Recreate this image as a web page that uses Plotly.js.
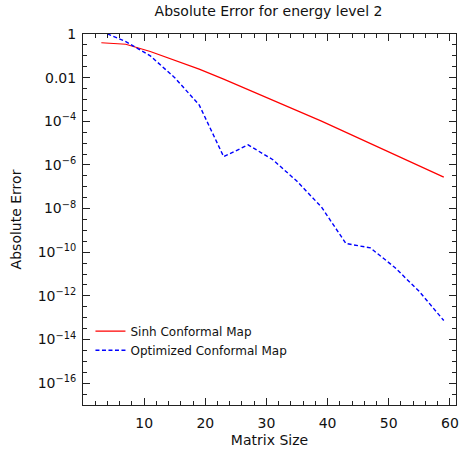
<!DOCTYPE html>
<html>
<head>
<meta charset="utf-8">
<script src="https://cdn.plot.ly/plotly-3.0.1.min.js"></script>
<style>html,body{margin:0;padding:0;background:#fff;}#chart{width:459px;height:456px;}</style>
</head>
<body>
<div id="chart"></div>
<script>
// Matrix sizes
const matrixSize = [3, 7, 11, 15, 19, 23, 27, 31, 35, 39, 43, 47, 51, 55, 59];
// log10 of absolute error
const sinhLog10 = [-0.40, -0.47, -0.80, -1.20, -1.61, -2.07, -2.54, -3.02, -3.51, -3.99, -4.50, -5.01, -5.53, -6.05, -6.56];
const optimizedLog10 = [0.12, -0.35, -1.00, -2.00, -3.25, -5.62, -5.08, -5.75, -6.75, -7.93, -9.60, -9.80, -10.70, -11.80, -13.13];
const yTickVals = [1, 1e-2, 1e-4, 1e-6, 1e-8, 1e-10, 1e-12, 1e-14, 1e-16];
const yTickText = ['1', '0.01', '10<sup>−4</sup>', '10<sup>−6</sup>', '10<sup>−8</sup>', '10<sup>−10</sup>', '10<sup>−12</sup>', '10<sup>−14</sup>', '10<sup>−16</sup>'];
const xTickVals = [10, 20, 30, 40, 50, 60];

const sinh = sinhLog10.map(v => Math.pow(10, v));
const optimized = optimizedLog10.map(v => Math.pow(10, v));

const minorY = [];
for (let k = 0; k <= 34; k++) minorY.push(Math.pow(10, -k / 2));

const font = 'DejaVu Sans, sans-serif';
const axisCommon = {
  showgrid: false, zeroline: false, showline: true, linecolor: '#222', linewidth: 1,
  mirror: 'ticks', ticks: 'inside', ticklen: 7, tickwidth: 1, tickcolor: '#222',
  tickfont: {family: font, size: 14, color: '#111'}
};

const data = [
  {x: matrixSize, y: sinh, type: 'scatter', mode: 'lines', name: 'Sinh Conformal Map',
   line: {color: '#ff0000', width: 1.2}},
  {x: matrixSize, y: optimized, type: 'scatter', mode: 'lines', name: 'Optimized Conformal Map',
   line: {color: '#0000ff', width: 1.4, dash: '4px,2.5px'}}
];

const layout = {
  width: 459, height: 456,
  margin: {l: 83, r: 3, t: 34, b: 51},
  paper_bgcolor: '#fff', plot_bgcolor: '#fff',
  font: {family: font, color: '#111'},
  title: {text: 'Absolute Error for energy level 2', font: {family: font, size: 14, color: '#111'},
          x: 0.585, xanchor: 'center', y: 0.975, yanchor: 'middle'},
  xaxis: Object.assign({}, axisCommon, {
    range: [0, 61], tickmode: 'array', tickvals: xTickVals, ticklabelstandoff: 5,
    title: {text: 'Matrix Size', font: {family: font, size: 14, color: '#111'}, standoff: 5},
    minor: {dtick: 2, tick0: 0, ticks: 'inside', ticklen: 4, tickwidth: 1, tickcolor: '#222'}
  }),
  yaxis: Object.assign({}, axisCommon, {
    type: 'log', range: [-17, 0], tickmode: 'array', tickvals: yTickVals, ticktext: yTickText,
    ticklabelstandoff: 3,
    title: {text: 'Absolute Error', font: {family: font, size: 14, color: '#111'}, standoff: 12},
    minor: {tickmode: 'array', tickvals: minorY, ticks: 'inside', ticklen: 4, tickwidth: 1, tickcolor: '#222'}
  }),
  showlegend: true,
  legend: {x: 0.02, y: 0.238, xanchor: 'left', yanchor: 'top', bgcolor: 'rgba(0,0,0,0)',
           borderwidth: 0, font: {family: font, size: 12, color: '#111'}, tracegroupgap: 0}
};

Plotly.newPlot('chart', data, layout, {displayModeBar: false});
</script>
</body>
</html>
